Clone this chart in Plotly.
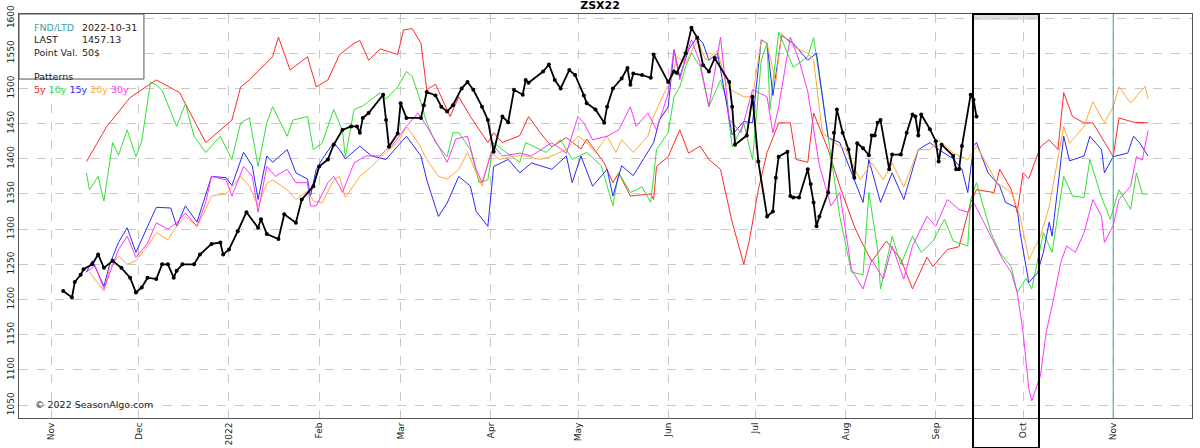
import pandas as pd
import plotly.graph_objects as go

BASE = pd.Timestamp("2021-11-01")

# ---- data: (days since 2021-11-01, price) ----
y5_day = [12,19,27,36,44,51,53,62,65,68,76,78,82,88,91,95,99,104,106,109,113,119,121,124,127,129,132,137,140,144,150,152,155,161,164,168,172,177,182,184,190,193,195,199,206,207,208,212,216,219,223,226,230,232,234,238,240,243,246,250,254,256,260,262,267,271,276,278,282,287,292,296,301,303,308,312,316,318,324,326,330,332,334,336,340,343,346,348,351,355,358,363,365,367,372,377]
y5_val = [1396,1446,1487,1512,1494,1437,1423,1455,1502,1512,1545,1573,1526,1545,1502,1512,1548,1564,1568,1540,1556,1548,1583,1585,1564,1498,1506,1460,1488,1460,1423,1437,1423,1433,1460,1437,1417,1430,1414,1428,1394,1366,1380,1347,1350,1342,1389,1403,1441,1408,1418,1399,1385,1347,1310,1250,1286,1356,1409,1451,1451,1399,1395,1465,1413,1361,1304,1286,1254,1283,1257,1215,1260,1247,1271,1275,1338,1356,1352,1385,1356,1324,1380,1372,1417,1427,1413,1494,1460,1451,1451,1417,1403,1458,1452,1451]

y10_day = [12,13,16,18,21,23,26,29,31,34,36,38,43,46,49,53,58,62,65,68,71,74,76,81,83,88,90,93,97,100,101,104,107,113,115,119,122,124,127,129,132,136,138,140,144,147,150,152,155,161,163,170,175,179,184,189,193,195,199,203,206,208,212,214,216,218,220,223,226,230,232,234,238,241,244,246,247,250,255,260,262,264,268,271,275,279,281,284,285,289,292,296,299,303,307,310,315,316,318,323,326,330,332,335,337,341,344,348,351,355,357,361,364,367,371,373,375,377]
y10_val = [1380,1356,1375,1340,1423,1405,1441,1403,1425,1509,1505,1497,1446,1478,1432,1409,1432,1399,1451,1458,1389,1451,1474,1432,1455,1460,1413,1422,1470,1440,1403,1470,1475,1494,1485,1502,1524,1517,1480,1451,1423,1403,1437,1437,1413,1366,1370,1423,1413,1395,1423,1409,1427,1399,1409,1390,1333,1380,1352,1360,1338,1413,1437,1488,1502,1531,1550,1531,1474,1512,1485,1417,1450,1399,1540,1564,1470,1580,1530,1545,1572,1517,1403,1318,1239,1235,1352,1272,1215,1290,1250,1290,1267,1283,1314,1283,1276,1342,1366,1295,1267,1246,1210,1230,1215,1295,1267,1375,1347,1345,1399,1345,1314,1356,1328,1380,1350,1350]

y15_day = [12,14,18,20,23,26,29,31,36,41,43,46,50,55,60,62,66,69,71,74,76,81,84,88,89,91,93,97,99,101,106,110,115,119,122,127,129,133,136,140,144,146,150,152,157,161,165,172,177,179,182,186,191,193,196,200,205,207,209,212,214,216,219,222,224,226,229,232,234,238,241,244,246,248,251,255,260,263,267,271,276,279,281,285,289,293,298,302,305,310,313,315,317,318,322,326,328,332,333,336,339,341,343,344,348,350,355,357,361,362,365,370,372,374,377]
y15_val = [1239,1255,1219,1250,1281,1302,1267,1285,1331,1330,1304,1333,1310,1375,1373,1362,1409,1390,1342,1404,1395,1413,1380,1371,1347,1385,1399,1423,1413,1400,1418,1404,1399,1418,1432,1404,1370,1318,1337,1375,1361,1325,1304,1389,1399,1380,1394,1385,1404,1366,1404,1361,1385,1347,1390,1376,1411,1423,1455,1474,1555,1516,1555,1573,1564,1540,1550,1482,1434,1453,1451,1569,1564,1490,1575,1564,1540,1550,1430,1423,1370,1338,1399,1338,1380,1342,1413,1423,1413,1400,1385,1352,1418,1423,1380,1361,1338,1330,1295,1224,1238,1267,1310,1290,1432,1397,1404,1432,1413,1380,1403,1408,1432,1423,1404]

y20_day = [13,18,20,23,26,29,33,36,40,43,46,50,53,55,60,65,68,71,74,76,81,84,88,90,93,97,99,101,106,110,115,119,122,126,129,133,136,140,143,146,148,151,154,159,163,168,172,177,181,184,187,191,194,196,200,205,207,210,213,215,218,222,225,229,232,234,238,241,244,246,249,251,255,260,262,265,269,273,278,282,286,289,293,298,302,305,310,315,318,320,325,330,333,336,340,343,348,350,355,358,362,365,367,371,374,376,377]
y20_val = [1239,1212,1245,1262,1250,1255,1276,1295,1285,1304,1318,1304,1328,1347,1350,1375,1361,1333,1365,1370,1356,1342,1354,1340,1337,1370,1375,1345,1375,1389,1409,1423,1446,1423,1399,1375,1371,1385,1409,1380,1361,1409,1399,1404,1404,1399,1404,1413,1432,1423,1409,1432,1409,1427,1409,1432,1460,1488,1512,1545,1536,1568,1540,1554,1505,1497,1488,1488,1568,1564,1509,1578,1559,1550,1540,1437,1423,1413,1370,1394,1370,1394,1360,1413,1413,1427,1408,1399,1418,1404,1366,1352,1318,1257,1290,1332,1446,1422,1446,1481,1451,1474,1502,1479,1493,1503,1485]

y30_day = [12,15,18,21,23,26,29,33,36,40,43,46,50,53,55,60,62,66,69,71,74,77,81,84,88,89,91,95,97,99,100,104,108,113,115,117,122,126,129,133,136,139,143,146,148,152,155,161,165,172,177,181,183,186,191,195,199,201,205,208,212,214,216,218,220,223,226,230,233,237,241,246,248,250,254,257,260,264,268,271,275,279,282,286,289,293,296,301,304,308,312,315,317,320,324,327,330,332,334,336,337,340,342,344,347,349,352,355,358,361,362,365,367,371,373,375,377]
y30_val = [1239,1248,1215,1250,1271,1290,1260,1280,1309,1300,1309,1323,1304,1338,1375,1370,1347,1389,1375,1324,1389,1375,1385,1366,1366,1333,1333,1366,1375,1361,1352,1394,1404,1404,1413,1418,1446,1465,1446,1418,1395,1428,1432,1385,1366,1418,1404,1408,1404,1423,1408,1460,1451,1427,1432,1441,1474,1446,1465,1441,1493,1555,1512,1545,1569,1536,1474,1573,1456,1437,1498,1488,1437,1474,1573,1540,1495,1390,1333,1352,1243,1215,1257,1229,1276,1229,1276,1318,1304,1342,1328,1324,1338,1314,1281,1257,1238,1210,1154,1073,1056,1092,1154,1191,1253,1276,1267,1295,1342,1318,1281,1305,1342,1361,1403,1398,1440]

act_day = [4,7,8,10,11,14,16,18,21,24,27,29,31,33,36,38,40,42,43,45,49,51,55,58,59,61,64,67,71,72,74,78,80,84,86,90,92,95,97,100,103,105,106,107,109,114,115,116,119,120,122,127,128,129,132,134,136,138,141,143,145,148,150,152,155,157,159,162,163,164,169,171,173,175,178,180,183,184,187,190,191,193,196,198,199,200,203,206,207,212,214,215,218,220,222,224,226,228,233,234,235,239,241,243,246,248,249,250,253,254,255,257,260,261,262,263,264,267,269,270,272,274,276,277,279,281,282,283,284,285,288,289,292,294,296,297,298,299,302,304,305,306,310,311,312,313,316,317,318]
act_val = [1212,1203,1225,1235,1243,1250,1264,1245,1255,1245,1231,1210,1217,1231,1229,1250,1250,1231,1241,1250,1250,1264,1279,1281,1264,1271,1297,1324,1302,1314,1293,1286,1321,1309,1342,1361,1389,1399,1420,1441,1446,1446,1437,1458,1465,1491,1455,1417,1436,1479,1458,1458,1476,1495,1490,1474,1467,1476,1500,1509,1498,1474,1455,1410,1460,1452,1498,1491,1512,1508,1524,1534,1512,1500,1526,1519,1490,1479,1470,1451,1474,1500,1514,1529,1505,1521,1519,1515,1548,1509,1524,1522,1550,1586,1572,1533,1524,1543,1509,1474,1420,1433,1488,1396,1318,1325,1373,1403,1410,1347,1345,1345,1385,1364,1338,1304,1318,1352,1437,1470,1437,1413,1373,1422,1415,1405,1433,1433,1451,1455,1385,1406,1406,1437,1463,1460,1433,1463,1442,1425,1396,1420,1404,1385,1385,1418,1491,1484,1460]

series = [("5y", y5_day, y5_val, "#ff2a2a"), ("10y", y10_day, y10_val, "#33e033"),
          ("15y", y15_day, y15_val, "#2a2aff"), ("20y", y20_day, y20_val, "#ffaa33"),
          ("30y", y30_day, y30_val, "#ff33ff")]

def to_dates(days):
    return BASE + pd.to_timedelta(days, unit="D")

fig = go.Figure()
for name, d, v, c in series:
    fig.add_trace(go.Scatter(x=to_dates(d), y=v, mode="lines", name=name,
                             line=dict(color=c, width=1)))
fig.add_trace(go.Scatter(x=to_dates(act_day), y=act_val, mode="lines+markers", name="ZSX22",
                         line=dict(color="black", width=1.8), marker=dict(color="black", size=4)))

tick_dates = pd.date_range("2021-11-01", "2022-11-01", freq="MS")
tick_text = ["2022" if t.month == 1 else t.strftime("%b") for t in tick_dates]

grid = dict(showgrid=True, gridcolor="#c8c8c8", griddash="dash", gridwidth=1)
fig.update_layout(
    width=1200, height=448, margin=dict(l=19, r=8, t=14, b=30, autoexpand=False),
    paper_bgcolor="white", plot_bgcolor="white", showlegend=False,
    font=dict(family="DejaVu Sans", size=9, color="#222"),
    title=dict(text="<b>ZSX22</b>", x=0.5, xanchor="center", y=0.997, yanchor="top",
               font=dict(size=11, color="black")),
    xaxis=dict(range=[BASE + pd.Timedelta(days=-11.2), BASE + pd.Timedelta(days=392.1)],
               tickvals=tick_dates, ticktext=tick_text, tickangle=-90, **grid, automargin=False,
               showline=True, linecolor="#555", mirror=True, ticks="", zeroline=False),
    yaxis=dict(range=[1031.6, 1605.7], dtick=50, tickangle=-90, **grid, automargin=False,
               showline=True, linecolor="#555", mirror=True, ticks="", zeroline=False),
)

# legend box
fig.add_shape(type="rect", xref="paper", yref="paper", x0=0, x1=0.1065, y0=0.839, y1=1,
              line=dict(color="#555", width=1), fillcolor="white", layer="above")
info = ("<span style='color:#3aa6a6'>FND/LTD</span><br>LAST<br>Point Val.<br><br>Patterns<br>"
        "<span style='color:#ff2a2a'>5y</span> <span style='color:#33e033'>10y</span> "
        "<span style='color:#2a2aff'>15y</span> <span style='color:#ffaa33'>20y</span> "
        "<span style='color:#ff33ff'>30y</span>")
fig.add_annotation(xref="paper", yref="paper", x=0.011, y=0.985, xanchor="left", yanchor="top",
                   text=info, showarrow=False, align="left", font=dict(size=9.5))
fig.add_annotation(xref="paper", yref="paper", x=0.052, y=0.985, xanchor="left", yanchor="top",
                   text="2022-10-31<br>1457.13<br>50$", showarrow=False, align="left", font=dict(size=9.5))
fig.add_annotation(xref="paper", yref="paper", x=0.012, y=0.015, xanchor="left", yanchor="bottom",
                   text="© 2022 SeasonAlgo.com", showarrow=False, font=dict(size=9.5))

# highlight box and FND line
x0 = BASE + pd.Timedelta(days=316.8)
x1 = BASE + pd.Timedelta(days=339.5)
fig.add_shape(type="rect", xref="x", yref="paper", x0=x0, x1=x1, y0=0.985, y1=1,
              fillcolor="#dddddd", line=dict(width=0), layer="below")
fig.add_shape(type="rect", xref="x", yref="paper", x0=x0, x1=x1, y0=-0.074, y1=1,
              line=dict(color="black", width=2), layer="above")
fig.add_shape(type="line", xref="x", yref="paper", x0=pd.Timestamp("2022-11-01"),
              x1=pd.Timestamp("2022-11-01"), y0=0, y1=1, line=dict(color="#3aa6a6", width=1))

fig.write_html("out.html", config={"displayModeBar": False},
               post_script="document.body.style.margin='0';document.body.style.overflow='hidden';")
